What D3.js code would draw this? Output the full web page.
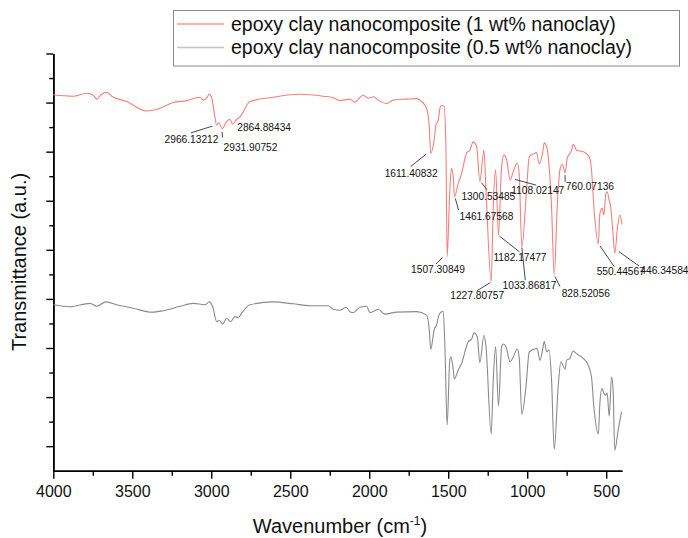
<!DOCTYPE html>
<html lang="en">
<head>
  <meta charset="UTF-8">
  <title>FTIR spectra</title>
  <script src="https://d3js.org/d3.v7.min.js"></script>
  <style>
    body { margin: 0; background: #fff; font-family: "Liberation Sans", Arial, sans-serif; }
    svg text { font-family: "Liberation Sans", Arial, sans-serif; fill: #111; }
  </style>
</head>
<body>
  <svg id="chart"></svg>

  <script>
    // wavenumbers (cm-1) and transmittance (a.u.)
    const wnOneWt = [4000, 3873, 3789, 3747, 3725, 3694, 3662, 3630, 3535, 3409, 3346, 3241, 3156, 3072, 3051, 3029, 3013, 2997, 2977, 2966,
      2951, 2932, 2903, 2882, 2865, 2844, 2818, 2755, 2608, 2439, 2291, 2228, 2196, 2186, 2122, 2091, 2038, 2006, 1975, 1943,
      1890, 1848, 1763, 1700, 1668, 1637, 1620, 1611, 1589, 1578, 1563, 1553, 1542, 1527, 1515, 1507, 1490, 1479, 1468, 1461,
      1437, 1415, 1384, 1363, 1342, 1320, 1300, 1274, 1261, 1228, 1215, 1200, 1182, 1162, 1147, 1130, 1108, 1089, 1063, 1051,
      1034, 1004, 987, 962, 941, 924, 903, 892, 877, 867, 846, 829, 810, 793, 778, 760, 747, 719, 709, 687,
      646, 608, 593, 578, 550, 540, 525, 515, 502, 494, 481, 472, 460, 446, 428, 413, 400];
    const tOneWt = [76.6, 76.3, 76.9, 76.5, 75.7, 76.7, 77.1, 76.3, 75.2, 73.3, 73.6, 75.0, 75.4, 76.1, 75.5, 75.9, 76.7, 75.9, 72.1, 70.4,
      70.9, 69.7, 71.1, 71.6, 70.6, 71.4, 72.1, 75.2, 76.1, 76.7, 76.3, 76.0, 75.5, 75.4, 75.7, 75.1, 76.5, 75.9, 76.2, 75.5,
      74.8, 75.5, 75.7, 75.8, 75.2, 73.8, 70.1, 64.7, 67.4, 70.4, 71.4, 73.8, 74.4, 74.3, 66.7, 43.6, 57.2, 61.6, 59.9, 55.8,
      58.5, 60.6, 64.7, 65.3, 67.0, 66.0, 58.9, 65.3, 57.2, 38.5, 53.8, 61.3, 48.0, 61.9, 64.3, 63.3, 59.2, 60.9, 62.7, 60.6,
      45.6, 57.2, 64.0, 64.5, 64.8, 62.5, 64.7, 66.8, 66.0, 64.0, 53.8, 39.9, 53.8, 61.3, 62.5, 60.7, 63.6, 65.3, 66.5, 65.3,
      65.0, 64.0, 61.3, 53.8, 46.2, 52.4, 53.5, 52.1, 56.5, 56.8, 55.1, 53.8, 49.7, 44.3, 49.7, 52.1, 50.2];

    const wnHalfWt = [4000, 3894, 3768, 3725, 3666, 3599, 3494, 3377, 3304, 3198, 3114, 3040, 3013, 2991, 2966, 2949, 2928, 2903, 2877, 2850,
      2829, 2808, 2755, 2608, 2481, 2375, 2260, 2228, 2185, 2147, 2122, 2101, 2059, 2016, 1996, 1943, 1901, 1827, 1700, 1637,
      1620, 1611, 1589, 1574, 1559, 1542, 1532, 1521, 1507, 1490, 1483, 1468, 1461, 1437, 1415, 1373, 1352, 1337, 1316, 1300,
      1274, 1261, 1228, 1215, 1200, 1182, 1162, 1152, 1135, 1108, 1089, 1063, 1051, 1034, 1008, 987, 962, 937, 920, 903,
      892, 877, 861, 846, 829, 804, 787, 760, 751, 730, 709, 687, 646, 614, 593, 578, 550, 540, 527, 515,
      504, 494, 481, 466, 456, 446, 424, 403];
    const tHalfWt = [33.8, 33.4, 34.1, 33.5, 34.4, 33.8, 33.1, 32.3, 32.6, 33.5, 34.1, 33.8, 34.4, 33.4, 30.4, 30.6, 29.9, 31.0, 30.4, 31.4,
      31.2, 32.1, 33.8, 34.4, 34.0, 33.6, 33.6, 32.9, 32.7, 33.3, 32.4, 32.2, 33.3, 33.5, 32.2, 32.9, 31.9, 32.3, 32.4, 31.7,
      28.7, 24.7, 28.7, 29.7, 31.7, 32.4, 32.5, 25.3, 9.3, 22.5, 23.2, 20.5, 18.7, 20.5, 21.9, 26.3, 26.8, 28.1, 27.3, 22.0,
      27.6, 25.3, 7.5, 18.5, 25.3, 13.2, 25.3, 25.8, 25.3, 22.2, 23.1, 24.8, 23.2, 11.5, 17.1, 24.2, 24.7, 24.9, 22.5, 24.6,
      26.3, 24.2, 24.6, 18.5, 4.4, 17.1, 22.2, 20.7, 22.5, 22.9, 24.4, 23.8, 22.9, 21.5, 19.1, 13.0, 7.5, 13.7, 16.8, 15.8,
      15.4, 15.8, 11.1, 19.1, 16.4, 4.2, 8.3, 12.0];

    const seriesNames = ["epoxy clay nanocomposite (1 wt% nanoclay)", "epoxy clay nanocomposite (0.5 wt% nanoclay)"];

    // peaks labelled on the 1 wt% curve
    const peakWn = [2966.13212, 2931.90752, 2864.88434, 1611.40832, 1507.30849, 1461.67568, 1300.53485, 1227.80757,
      1182.17477, 1108.02147, 1033.86817, 828.52056, 760.07136, 550.44567, 446.34584];

    const xMajor = [4000, 3500, 3000, 2500, 2000, 1500, 1000, 500];
    const xMinor = [3750, 3250, 2750, 2250, 1750, 1250, 750];
    const yMajor = [5, 15, 25, 35, 45, 55, 65, 75, 85];
    const yMinor = [10, 20, 30, 40, 50, 60, 70, 80];

    // label placement for each peak: text start (tx, ty) and leader line, relative to the peak point
    const peakLayout = [
      { tx: -52, ty: 17.5, line: [-4.4, 1, -25.7, 7.7] },
      { tx: 1.6, ty: 22, line: [0, 3.4, 0.6, 9] },
      { tx: 4.6, ty: 7, line: null },
      { tx: -46, ty: 24.3, line: [-4.4, 1, -20, 13.4] },
      { tx: -36, ty: 16.2, line: [-4.4, 0.6, -11, 7.3] },
      { tx: 5.3, ty: 22.9, line: [1, 1.6, 4.3, 13.3] },
      { tx: -18.3, ty: 18.6, line: [1.7, 1, 7.3, 8.3] },
      { tx: -41, ty: 17.6, line: [-1, 1, -14.3, 9] },
      { tx: -5, ty: 25.9, line: [1, 1, 21, 16.7] },
      { tx: 1, ty: 14.3, line: [5, -0.7, 26, 5] },
      { tx: -19.3, ty: 41.9, line: [0, 0.6, 3.4, 33.3] },
      { tx: 7.4, ty: 21.9, line: [0.7, 1.7, 5.7, 11.7] },
      { tx: 0.7, ty: 17.6, line: [0, 2.3, 0, 9] },
      { tx: -1.6, ty: 31.3, line: [1.7, 2, 16, 22.7] },
      { tx: 25.7, ty: 21, line: [4.3, -1.6, 24.3, 12.7] }
    ];

    const width = 688, height = 538;
    const colors = ["#f77f7f", "#8a8a8a"];

    const svg = d3.select("#chart").attr("width", width).attr("height", height);

    const x = d3.scaleLinear().domain([4000, 400]).range([53.3, 622]);
    const y = d3.scaleLinear().domain([0, 85]).range([470.7, 53.5]);

    // axes
    const xAxis = svg.append("g").attr("transform", `translate(0,${y(0)})`)
      .call(d3.axisBottom(x).tickValues(xMajor).tickSize(8).tickSizeOuter(0).tickPadding(7).tickFormat(d3.format("d")));
    svg.append("g").attr("transform", `translate(0,${y(0)})`)
      .call(d3.axisBottom(x).tickValues(xMinor).tickSize(5).tickSizeOuter(0).tickFormat(""));
    svg.append("g").attr("transform", `translate(${x(4000)},0)`)
      .call(d3.axisLeft(y).tickValues(yMajor).tickSize(7).tickSizeOuter(0).tickFormat(""));
    svg.append("g").attr("transform", `translate(${x(4000)},0)`)
      .call(d3.axisLeft(y).tickValues(yMinor).tickSize(4).tickSizeOuter(0).tickFormat(""));

    svg.selectAll(".domain").attr("stroke", "#000").attr("stroke-width", 1.6);
    svg.selectAll(".tick line").attr("stroke", "#000").attr("stroke-width", 1.4);
    xAxis.selectAll("text").attr("font-size", 16).attr("fill", "#111");

    // x axis title with superscript
    const xt = svg.append("text").attr("x", 340).attr("y", 533)
      .attr("text-anchor", "middle").attr("font-size", 20);
    xt.append("tspan").text("Wavenumber (cm");
    xt.append("tspan").attr("dy", -8).attr("font-size", 12).text("-1");
    xt.append("tspan").attr("dy", 8).text(")");

    svg.append("text")
      .attr("transform", "translate(26,262) rotate(-90)")
      .attr("text-anchor", "middle").attr("font-size", 20)
      .text("Transmittance (a.u.)");

    // spectra
    const line = d3.line().x(d => x(d[0])).y(d => y(d[1])).curve(d3.curveMonotoneX);
    const spectra = [d3.zip(wnOneWt, tOneWt), d3.zip(wnHalfWt, tHalfWt)];

    svg.selectAll("path.spectrum")
      .data(spectra)
      .enter()
      .append("path")
      .attr("class", "spectrum")
      .attr("fill", "none")
      .attr("stroke", (d, i) => colors[i])
      .attr("stroke-width", 1.1)
      .attr("d", line);

    // peak labels
    const peaks = peakWn.map((wn, i) => {
      const j = d3.minIndex(wnOneWt, w => Math.abs(w - wn));
      return { wn, px: x(wn), py: y(tOneWt[j]), layout: peakLayout[i] };
    });

    const pk = svg.append("g").selectAll("g").data(peaks).enter().append("g")
      .attr("transform", d => `translate(${d.px},${d.py})`);

    pk.filter(d => d.layout.line)
      .append("line")
      .attr("x1", d => d.layout.line[0]).attr("y1", d => d.layout.line[1])
      .attr("x2", d => d.layout.line[2]).attr("y2", d => d.layout.line[3])
      .attr("stroke", "#333").attr("stroke-width", 0.9);

    pk.append("text")
      .attr("x", d => d.layout.tx).attr("y", d => d.layout.ty)
      .attr("font-size", 10.2)
      .text(d => d3.format(".5f")(d.wn));

    // legend
    const legend = svg.append("g");
    legend.append("rect")
      .attr("x", 173.5).attr("y", 10.5).attr("width", 506).attr("height", 55.5)
      .attr("fill", "#fff").attr("stroke", "#888").attr("stroke-width", 1);

    const items = legend.selectAll("g").data(seriesNames).enter().append("g")
      .attr("transform", (d, i) => `translate(0,${24 + i * 23.5})`);
    items.append("line")
      .attr("x1", 177).attr("x2", 224)
      .attr("stroke", (d, i) => i === 0 ? "#f79a9a" : "#c4c4c4").attr("stroke-width", 1.4);
    items.append("text")
      .attr("x", 231).attr("dy", "0.35em")
      .attr("font-size", 19.5)
      .text(d => d);
  </script>
</body>
</html>
